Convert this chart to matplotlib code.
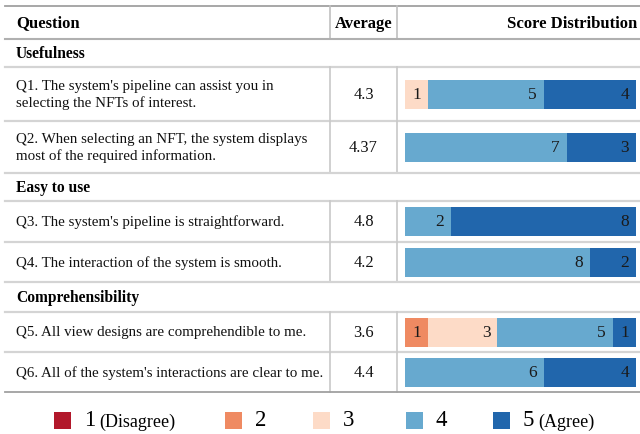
import matplotlib.pyplot as plt
from matplotlib.patches import Rectangle

plt.rcParams['font.family'] = ['Liberation Serif', 'DejaVu Serif']

# Survey data
sections = ["Usefulness", "Easy to use", "Comprehensibility"]
questions = [
    "Q1. The system's pipeline can assist you in\nselecting the NFTs of interest.",
    "Q2. When selecting an NFT, the system displays\nmost of the required information.",
    "Q3. The system's pipeline is straightforward.",
    "Q4. The interaction of the system is smooth.",
    "Q5. All view designs are comprehendible to me.",
    "Q6. All of the system's interactions are clear to me.",
]
question_section = [0, 0, 1, 1, 2, 2]
averages = ["4.3", "4.37", "4.8", "4.2", "3.6", "4.4"]
score1 = [0, 0, 0, 0, 0, 0]
score2 = [0, 0, 0, 0, 1, 0]
score3 = [1, 0, 0, 0, 3, 0]
score4 = [5, 7, 2, 8, 5, 6]
score5 = [4, 3, 8, 2, 1, 4]
score_labels = ["1", "2", "3", "4", "5"]
score_notes = ["(Disagree)", "", "", "", "(Agree)"]
colors = ['#b2182b', '#ef8a62', '#fddbc7', '#67a9cf', '#2166ac']

# Table layout in pixels (y grows downward)
top = 7
header_h = 33
section_h = [28, 28, 30]
question_h = [54, 52, 41, 40, 40, 40]
col1_x = 330
col2_x = 397

fig = plt.figure(figsize=(6.4, 4.35), dpi=100)
ax = fig.add_axes([0, 0, 1, 1])
ax.set_xlim(0, 640)
ax.set_ylim(435, 0)
ax.axis('off')

bx = fig.add_axes([405 / 640, 0, 231 / 640, 1])
bx.set_xlim(0, 10)
bx.set_ylim(435, 0)
bx.axis('off')

# Header
y = top
ax.plot([5, 640], [y, y], color='#a0a0a0', lw=1.3)
mid = y + header_h / 2
ax.text(16, mid, "Question", fontsize=12, fontweight='bold', va='center', ha='left')
ax.text((col1_x + col2_x) / 2, mid, "Average", fontsize=12, fontweight='bold', va='center', ha='center')
ax.text(637, mid, "Score Distribution", fontsize=12, fontweight='bold', va='center', ha='right')
ax.plot([col1_x, col1_x], [y, y + header_h], color='#c0c0c0', lw=1.2)
ax.plot([col2_x, col2_x], [y, y + header_h], color='#c0c0c0', lw=1.2)
y += header_h
ax.plot([5, 640], [y, y], color='#b0b0b0', lw=1.5)

scores = [score1, score2, score3, score4, score5]
last_section = -1
for i, q in enumerate(questions):
    s = question_section[i]
    if s != last_section:
        ax.text(16, y + section_h[s] / 2, sections[s], fontsize=11.2, fontweight='bold', va='center', ha='left')
        y += section_h[s]
        ax.plot([5, 640], [y, y], color='#d4d4d4', lw=1.6)
        last_section = s
    h = question_h[i]
    mid = y + h / 2
    ax.text(16, mid, q, fontsize=10.8, va='center', ha='left', linespacing=1.35, color='#111111')
    ax.text((col1_x + col2_x) / 2, mid, averages[i], fontsize=11.8, va='center', ha='center', color='#111111')
    ax.plot([col1_x, col1_x], [y, y + h], color='#c8c8c8', lw=1.2)
    ax.plot([col2_x, col2_x], [y, y + h], color='#c8c8c8', lw=1.2)

    left = 0
    for k in range(5):
        v = scores[k][i]
        if v > 0:
            bx.barh(mid, v, left=left, height=29, color=colors[k], edgecolor='none')
            bx.annotate(str(v), xy=(left + v, mid), xytext=(-5, 0), textcoords='offset points',
                        ha='right', va='center', fontsize=12.5, color='#1a1a1a')
        left += v

    y += h
    last = i == len(questions) - 1
    ax.plot([5, 640], [y, y], color='#a0a0a0' if last else '#d4d4d4', lw=1.3 if last else 1.6)

# Legend
legend_x = [54, 225, 313, 406, 493]
for k in range(5):
    x0 = legend_x[k]
    ax.add_patch(Rectangle((x0, 413), 17, 17, color=colors[k], lw=0))
    t = ax.text(x0 + 30, 421, score_labels[k], fontsize=16.5, va='center', ha='left')
    if score_notes[k]:
        ax.annotate(score_notes[k], xy=(1, 0.5), xycoords=t, xytext=(3, -1), textcoords='offset points',
                    fontsize=13, va='center', ha='left')

fig.savefig("out.png", dpi=100)
